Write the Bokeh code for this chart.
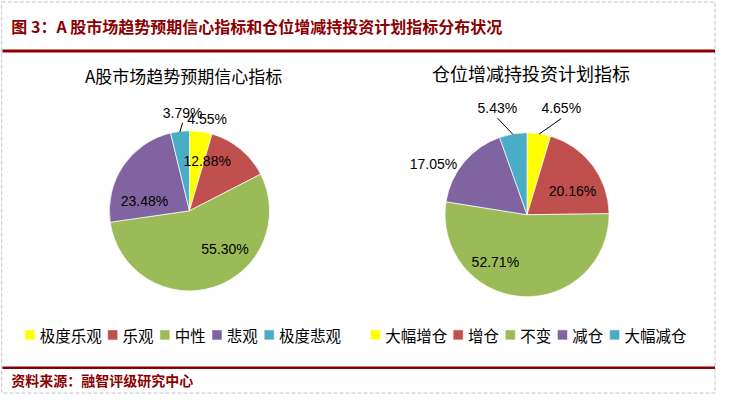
import math
from bokeh.plotting import figure
from bokeh.models import Range1d, ColumnDataSource
from bokeh.core.properties import value
from bokeh.embed import file_html
from bokeh.resources import INLINE

# ---------------- data ----------------
title_text = "图 3：A 股市场趋势预期信心指标和仓位增减持投资计划指标分布状况"
source_text = "资料来源：融智评级研究中心"

left_title = "A股市场趋势预期信心指标"
left_cats = ["极度乐观", "乐观", "中性", "悲观", "极度悲观"]
left_vals = [4.55, 12.88, 55.30, 23.48, 3.79]

right_title = "仓位增减持投资计划指标"
right_cats = ["大幅增仓", "增仓", "不变", "减仓", "大幅减仓"]
right_vals = [4.65, 20.16, 52.71, 17.05, 5.43]

colors = ["#FFFF00", "#C0504D", "#9BBB59", "#8064A2", "#4BACC6"]

# ---------------- layout (reference pixel space, y measured downward) ----------------
W, H = 716, 394
X0, X1 = 2.0, 729.5
Y0, Y1 = 1.0, 407.5
PAGE_H = 410.0
sx = W / (X1 - X0)
sy = H / (Y1 - Y0)


def fy(y):
    return PAGE_H - y


DARK_RED = "#8B0000"
CJK = value("Noto Sans CJK SC")
NUM = value("Liberation Sans")

p = figure(width=W, height=H, output_backend="svg", toolbar_location=None,
           x_range=Range1d(X0, X1), y_range=Range1d(fy(Y1), fy(Y0)),
           x_axis_type=None, y_axis_type=None, min_border=0,
           background_fill_color="white", border_fill_color="white")
p.grid.visible = False
p.outline_line_color = None

# dashed page border
p.quad(left=[3.2], right=[728.0], top=[fy(2.5)], bottom=[fy(406.0)],
       fill_color=None, line_color="#c4c4c4", line_dash="4 2", line_width=1)

# title + rules
p.text(x=[13], y=[fy(27)], text=[title_text], text_font=CJK, text_font_size="16px",
       text_font_style="bold", text_color=DARK_RED, text_align="left", text_baseline="middle")
p.segment(x0=[4, 4], y0=[fy(53), fy(380)], x1=[728, 728], y1=[fy(53), fy(380)],
          line_color=DARK_RED, line_width=[3, 2.5])
p.text(x=[13], y=[fy(393)], text=[source_text], text_font=CJK, text_font_size="14px",
       text_font_style="bold", text_color=DARK_RED, text_align="left", text_baseline="middle")


def draw_pie(vals, cats, cx, cy, r, sub, sub_xy, sub_size, label_adj, leaders, legend_x0):
    total = sum(vals)
    cum = 0.0
    starts, ends, mids = [], [], []
    for v in vals:
        a0 = cum / total
        cum += v
        a1 = cum / total
        starts.append(math.pi / 2 - 2 * math.pi * a1)
        ends.append(math.pi / 2 - 2 * math.pi * a0)
        mids.append(360.0 * (a0 + a1) / 2)
    src = ColumnDataSource(dict(x=[cx] * len(vals), y=[fy(cy)] * len(vals),
                                s=starts, e=ends, c=colors[:len(vals)]))
    p.wedge(x="x", y="y", radius=r * (sx + sy) / 2, radius_units="screen",
            start_angle="s", end_angle="e", fill_color="c",
            line_color="white", line_width=0.7, source=src)

    lx, ly, lt = [], [], []
    lead_x0, lead_y0, lead_x1, lead_y1 = [], [], [], []
    for v, m, (adj, fac), lead in zip(vals, mids, label_adj, leaders):
        phi = math.radians(m + adj)
        d = fac * r
        tx = cx + d * math.sin(phi)
        ty = fy(cy) + d * math.cos(phi)
        lx.append(tx)
        ly.append(ty)
        lt.append(f"{v:.2f}%")
        if lead:
            th = math.radians(m)
            lead_x0.append(cx + r * math.sin(th))
            lead_y0.append(fy(cy) + r * math.cos(th))
            lead_x1.append(tx)
            lead_y1.append(ty - 10.5)
    if lead_x0:
        p.segment(x0=lead_x0, y0=lead_y0, x1=lead_x1, y1=lead_y1,
                  line_color="black", line_width=1)
    p.text(x=lx, y=ly, text=lt, text_font=NUM, text_font_size="14px",
           text_color="black", text_align="center", text_baseline="middle")

    p.text(x=[sub_xy[0]], y=[fy(sub_xy[1])], text=[sub], text_font=CJK,
           text_font_size=sub_size, text_color="black",
           text_align="center", text_baseline="middle")

    # legend flow
    x = legend_x0
    sqx, tx_ = [], []
    for cat in cats:
        sqx.append(x + 5)
        tx_.append(x + 15)
        x += 15 + len(cat) * 15.5 + 7
    p.rect(x=sqx, y=[fy(346)] * len(cats), width=10, height=10,
           width_units="screen", height_units="screen",
           fill_color=colors[:len(cats)], line_color="white", line_width=0.5)
    p.text(x=tx_, y=[fy(346)] * len(cats), text=cats, text_font=CJK,
           text_font_size="15.5px", text_color="black",
           text_align="left", text_baseline="middle")


left_label_adj = [(2.6, 1.17), (-20.2, 0.66), (-25.0, 0.65), (-21.8, 0.57), (2.9, 1.24)]
left_leaders = [False, False, False, False, True]
right_label_adj = [(9.2, 1.37), (9.4, 0.62), (29.0, 0.70), (-11.1, 1.29), (-5.5, 1.36)]
right_leaders = [True, False, False, False, True]

draw_pie(left_vals, left_cats, 194, 218, 82, left_title, (188, 78), "17px",
         left_label_adj, left_leaders, 27)
draw_pie(right_vals, right_cats, 537, 222, 84, right_title, (541, 76), "18px",
         right_label_adj, right_leaders, 378)

open("out.html", "w").write(file_html(p, INLINE))
